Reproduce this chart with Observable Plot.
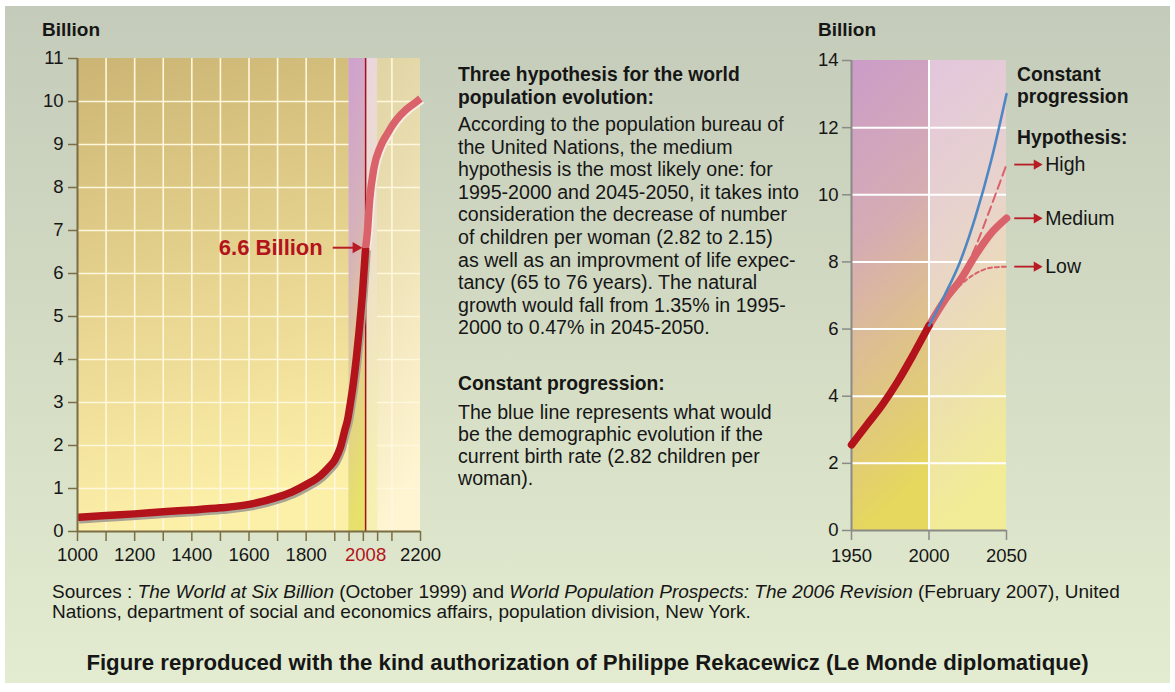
<!DOCTYPE html>
<html><head><meta charset="utf-8">
<script src="https://cdn.jsdelivr.net/npm/d3@7"></script>
<script src="https://cdn.jsdelivr.net/npm/@observablehq/plot@0.6"></script>
<style>
html,body{margin:0;padding:0;background:#ffffff;}
#page{position:relative;width:1175px;height:692px;overflow:hidden;font-family:"Liberation Sans",Arial,sans-serif;color:#161616;}
#bg{position:absolute;left:5px;top:6px;width:1165px;height:677px;background:linear-gradient(180deg,#c4cbba 0%,#d2dac3 45%,#e3ecd0 100%);}
.abs{position:absolute;white-space:nowrap;}
.b{font-weight:bold;}
#left{position:absolute;left:0;top:0;}
#right{position:absolute;left:780px;top:0;}
</style></head>
<body>
<div id="page">
<div id="bg"></div>
<div id="left"></div>
<div id="right"></div>
<div class="abs b" style="left:42px;top:19px;font-size:19px;line-height:22px">Billion</div>
<div class="abs b" style="left:818px;top:19px;font-size:19px;line-height:22px">Billion</div>
<div class="abs b" style="left:458px;top:64px;font-size:19.3px;line-height:22.6px">Three hypothesis for the world<br>population evolution:</div>
<div class="abs" style="left:458px;top:113px;font-size:19.6px;line-height:22.6px">According to the population bureau of<br>the United Nations, the medium<br>hypothesis is the most likely one: for<br>1995-2000 and 2045-2050, it takes into<br>consideration the decrease of number<br>of children per woman (2.82 to 2.15)<br>as well as an improvment of life expec-<br>tancy (65 to 76 years). The natural<br>growth would fall from 1.35% in 1995-<br>2000 to 0.47% in 2045-2050.</div>
<div class="abs b" style="left:458px;top:373px;font-size:19.3px;line-height:22px">Constant progression:</div>
<div class="abs" style="left:458px;top:401px;font-size:19.6px;line-height:22px">The blue line represents what would<br>be the demographic evolution if the<br>current birth rate (2.82 children per<br>woman).</div>
<div class="abs b" style="left:1017px;top:64px;font-size:19.3px;line-height:22px">Constant<br>progression</div>
<div class="abs b" style="left:1017px;top:127px;font-size:19.3px;line-height:22px">Hypothesis:</div>
<div class="abs" style="left:52px;top:582px;font-size:19px;line-height:20px">Sources : <i>The World at Six Billion</i> (October 1999) and <i>World Population Prospects: The 2006 Revision</i> (February 2007), United<br>Nations, department of social and economics affairs, population division, New York.</div>
<div class="abs b" style="left:0;width:1175px;text-align:center;top:651px;font-size:22.2px;line-height:24px">Figure reproduced with the kind authorization of Philippe Rekacewicz (Le Monde diplomatique)</div>
</div>
<script>
// ---------- DATA ----------
// Left chart: world population (billion), 1000-2200
const pastYears = [1000,1100,1200,1300,1400,1500,1600,1700,1750,1800,1850,1880,1900,1920,1935,1945,1955,1965,1975,1985,1997,2008];
const pastPop   = [0.33,0.37,0.41,0.46,0.50,0.55,0.63,0.80,0.92,1.09,1.30,1.50,1.66,1.96,2.35,2.60,3.00,3.45,4.00,4.65,5.55,6.60];
const futureYears = [2008,2014,2022,2037,2060,2084,2113,2148,2183,2200];
const futurePop   = [6.60,6.95,7.70,8.45,8.95,9.25,9.55,9.80,9.98,10.07];
const leftEraBounds = [1000,1950,2008,2050,2200];
const leftYTicks = [0,1,2,3,4,5,6,7,8,9,10,11];
const leftXTicks = [1000,1100,1200,1300,1400,1500,1600,1700,1800,1900,1950,2000,2050,2100,2200];
const leftXLabels = [1000,1200,1400,1600,1800,2008,2200];
const markYear = 2008;
const markValue = 6.6;
const markLabel = "6.6 Billion";

// Right chart: 1950-2050 with projections
const rightPastYears = [1950,1960,1970,1980,1990,2000];
const rightPastPop   = [2.55,3.15,3.75,4.45,5.25,6.10];
const projYears = [2000,2010,2020,2030,2040,2050];
const constantProg = [6.10,7.00,8.00,9.35,11.00,13.00];
const highHyp      = [6.10,6.80,7.50,8.45,9.65,10.90];
const mediumHyp    = [6.10,6.85,7.45,8.20,8.85,9.30];
const lowHyp       = [6.10,6.75,7.30,7.65,7.83,7.86];
const hypNames = ["High","Medium","Low"];
const rightEraBounds = [1950,2000,2050];
const rightYTicks = [0,2,4,6,8,10,12,14];
const rightXTicks = [1950,2000,2050];

// ---------- HELPERS ----------
const FONT = "Liberation Sans, Arial, sans-serif";
const RED = "#b3131b", PINK = "#d9626b", BLUE = "#4f87c2", ARROW = "#b81c24";
function addGradients(svg, defsSpec) {
  const ns = "http://www.w3.org/2000/svg";
  const defs = document.createElementNS(ns, "defs");
  for (const [id, stops] of defsSpec) {
    const g = document.createElementNS(ns, "linearGradient");
    g.setAttribute("id", id);
    g.setAttribute("x1", "0"); g.setAttribute("y1", "0");
    g.setAttribute("x2", "0.15"); g.setAttribute("y2", "1");
    for (const [off, col] of stops) {
      const s = document.createElementNS(ns, "stop");
      s.setAttribute("offset", off);
      s.setAttribute("stop-color", col);
      g.appendChild(s);
    }
    defs.appendChild(g);
  }
  svg.insertBefore(defs, svg.firstChild);
}

// ---------- LEFT CHART ----------
const past = pastYears.map((year, i) => ({year, pop: pastPop[i]}));
const future = futureYears.map((year, i) => ({year, pop: futurePop[i]}));
const eras = d3.pairs(leftEraBounds).map(([a, b], i) => ({a, b, i}));
const eraFill = ["url(#gl0)", "url(#gl1)", "url(#gl2)", "url(#gl3)"];
const yTop = d3.max(leftYTicks);
const xMin = leftEraBounds[0], xMax = leftEraBounds[leftEraBounds.length - 1];
const axisColL = "#7b6d44";
const gridYears = leftXTicks.filter(d => d % 100 === 0 && d > xMin && d < xMax);

const leftPlot = Plot.plot({
  width: 440, height: 580,
  marginLeft: 77, marginRight: 20, marginTop: 58, marginBottom: 49,
  x: {domain: [xMin, xMax], label: null},
  y: {domain: [0, yTop], label: null},
  color: {type: "identity"},
  style: {background: "transparent", fontFamily: FONT, fontSize: "18.5px", overflow: "visible", color: "#161616"},
  marks: [
    Plot.rect(eras.filter(e => e.i === 0 || e.i === 3), {x1: "a", x2: "b", y1: 0, y2: yTop, fill: e => eraFill[e.i]}),
    Plot.ruleX(gridYears, {x: d => d, y1: 0, y2: yTop, stroke: "#fff8dc", strokeWidth: 1.6}),
    Plot.ruleY(leftYTicks.filter(d => d > 0 && d < yTop), {y: d => d, x1: xMin, x2: xMax, stroke: "#fff8dc", strokeWidth: 1.6}),
    Plot.rect(eras.filter(e => e.i === 1 || e.i === 2), {x1: "a", x2: "b", y1: 0, y2: yTop, fill: e => eraFill[e.i]}),
    Plot.ruleX([markYear], {x: d => d, y1: 0, y2: yTop, stroke: "#a3101a", strokeWidth: 1.5}),
    // shadows
    Plot.line(past, {x: "year", y: "pop", stroke: "#a9a493", strokeWidth: 7.5, curve: "monotone-x", dx: 1.5, dy: 2.5, strokeLinecap: "butt"}),
    Plot.line(future, {x: "year", y: "pop", stroke: "#f4ede2", strokeWidth: 7.5, curve: "monotone-x", dx: 1.5, dy: 1.5, strokeLinecap: "butt"}),
    Plot.line(future, {x: "year", y: "pop", stroke: PINK, strokeWidth: 7.5, curve: "monotone-x", strokeLinecap: "butt"}),
    Plot.line(past, {x: "year", y: "pop", stroke: RED, strokeWidth: 7.5, curve: "monotone-x", strokeLinecap: "butt"}),
    // axes
    Plot.ruleX([xMin], {x: d => d, y1: 0, y2: yTop, stroke: axisColL, strokeWidth: 2}),
    Plot.ruleY([0], {y: d => d, x1: xMin, x2: xMax, stroke: axisColL, strokeWidth: 2}),
    Plot.axisY(leftYTicks, {tickSize: 9, tickPadding: 5, stroke: axisColL, strokeWidth: 1.5, fill: "#161616", fontSize: 18.5, label: null}),
    Plot.axisX(leftXTicks, {tickSize: 10, tickFormat: () => "", stroke: axisColL, strokeWidth: 1.5, label: null}),
    Plot.text(leftXLabels, {x: d => d, y: 0, dy: 24, text: d => String(d), fill: d => d === markYear ? RED : "#161616", fontSize: 18.5}),
    // annotation
    Plot.text([markValue], {x: markYear - 150, y: d => d, text: () => markLabel, textAnchor: "end", fill: RED, fontWeight: "bold", fontSize: 22}),
    Plot.link([markValue], {x1: markYear - 115, x2: markYear - 40, y1: d => d, y2: d => d, stroke: ARROW, strokeWidth: 2}),
    Plot.dot([markValue], {x: markYear - 34, y: d => d, symbol: "triangle", rotate: 90, r: 4.2, fill: ARROW, stroke: "none"})
  ]
});
addGradients(leftPlot, [
  ["gl0", [["0", "#ccb574"], ["0.45", "#e3cf8c"], ["1", "#fcefa8"]]],
  ["gl1", [["0", "#cfa0d0"], ["0.45", "#d7b3b8"], ["0.72", "#e2d08e"], ["1", "#e7e06a"]]],
  ["gl2", [["0", "#e9d4df"], ["0.5", "#eee0c8"], ["1", "#f6f0b2"]]],
  ["gl3", [["0", "#e0d4a4"], ["0.5", "#efe3b8"], ["1", "#fff5d2"]]]
]);
document.getElementById("left").appendChild(leftPlot);

// ---------- RIGHT CHART ----------
const rPast = rightPastYears.map((year, i) => ({year, pop: rightPastPop[i]}));
const mk = arr => projYears.map((year, i) => ({year, pop: arr[i]}));
const halves = d3.pairs(rightEraBounds).map(([a, b], i) => ({a, b, i}));
const rTop = d3.max(rightYTicks);
const rMin = rightEraBounds[0], rMax = rightEraBounds[rightEraBounds.length - 1];
const axisColR = "#8a8a86";
const hypEnds = [highHyp, mediumHyp, lowHyp].map((arr, i) => ({name: hypNames[i], v: arr[arr.length - 1]}));

const rightPlot = Plot.plot({
  width: 395, height: 580,
  marginLeft: 71, marginRight: 169, marginTop: 60, marginBottom: 50,
  x: {domain: [rMin, rMax], label: null},
  y: {domain: [0, rTop], label: null},
  color: {type: "identity"},
  style: {background: "transparent", fontFamily: FONT, fontSize: "18.5px", overflow: "visible", color: "#161616"},
  marks: [
    Plot.rect(halves, {x1: "a", x2: "b", y1: 0, y2: rTop, fill: h => ["url(#gr0)", "url(#gr1)"][h.i]}),
    Plot.ruleY(rightYTicks.filter(d => d > 0 && d < rTop), {y: d => d, x1: rMin, x2: rMax, stroke: "#ffffff", strokeWidth: 2}),
    Plot.ruleX(rightXTicks.filter(d => d > rMin && d < rMax), {x: d => d, y1: 0, y2: rTop, stroke: "#ffffff", strokeWidth: 2}),
    Plot.ruleX([rMin], {x: d => d, y1: 0, y2: rTop, stroke: axisColR, strokeWidth: 2}),
    Plot.ruleY([0], {y: d => d, x1: rMin, x2: rMax, stroke: axisColR, strokeWidth: 2}),
    Plot.axisY(rightYTicks, {tickSize: 9, tickPadding: 4, stroke: axisColR, strokeWidth: 1.5, fill: "#161616", fontSize: 18.5, label: null}),
    Plot.axisX(rightXTicks, {tickSize: 10, tickFormat: () => "", stroke: axisColR, strokeWidth: 1.5, label: null}),
    Plot.text(rightXTicks, {x: d => d, y: 0, dy: 26, text: d => String(d), fill: "#161616", fontSize: 18.5}),
    Plot.line(mk(mediumHyp), {x: "year", y: "pop", stroke: PINK, strokeWidth: 7.5, curve: "monotone-x"}),
    Plot.line(mk(highHyp), {x: "year", y: "pop", stroke: PINK, strokeWidth: 2, strokeDasharray: "9,5", curve: "monotone-x"}),
    Plot.line(mk(lowHyp), {x: "year", y: "pop", stroke: PINK, strokeWidth: 2, strokeDasharray: "4,3", curve: "monotone-x"}),
    Plot.line(rPast, {x: "year", y: "pop", stroke: RED, strokeWidth: 7.5, curve: "monotone-x"}),
    Plot.line(mk(constantProg), {x: "year", y: "pop", stroke: BLUE, strokeWidth: 2.6, curve: "monotone-x"}),
    Plot.link(hypEnds, {x1: rMax + 5, x2: rMax + 18, y1: "v", y2: "v", stroke: ARROW, strokeWidth: 1.8}),
    Plot.dot(hypEnds, {x: rMax + 19.5, y: "v", symbol: "triangle", rotate: 90, r: 3.8, fill: ARROW, stroke: "none"}),
    Plot.text(hypEnds, {x: rMax + 25, y: "v", text: "name", textAnchor: "start", fill: "#161616", fontSize: 19.5})
  ]
});
addGradients(rightPlot, [
  ["gr0", [["0", "#cb9cc9"], ["0.4", "#d6acb3"], ["0.62", "#dcbd94"], ["1", "#e6d75e"]]],
  ["gr1", [["0", "#e2c6dd"], ["0.4", "#e8d3cc"], ["0.62", "#ebdcb6"], ["1", "#f2ec96"]]]
]);
document.getElementById("right").appendChild(rightPlot);
</script>
</body></html>
